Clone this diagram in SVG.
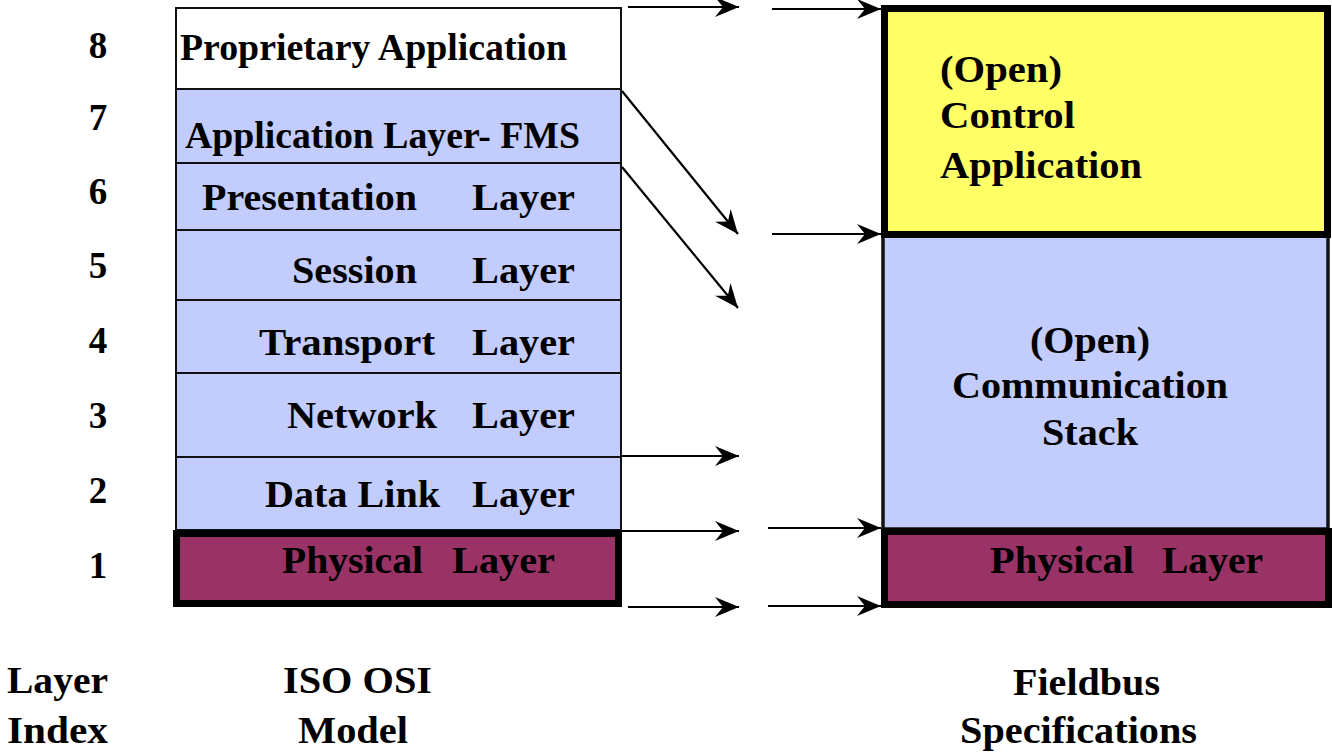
<svg xmlns="http://www.w3.org/2000/svg" width="1332" height="753" viewBox="0 0 1332 753">
<defs>
<marker id="ah" markerUnits="userSpaceOnUse" viewBox="0 0 24 20" refX="24" refY="10" markerWidth="24" markerHeight="20" orient="auto">
<path d="M0,0 L24,10 L0,20 L8,10 Z" fill="#000"/>
</marker>
</defs>
<style>
text{font-family:"Times New Roman","Liberation Serif",Tinos,Times,serif;font-weight:700;fill:#000;}
.lbl{font-size:37px;}
.num{font-size:37px;text-anchor:middle;}
.cap{font-size:37px;}
.mid{text-anchor:middle;}
.blue{fill:#C2CCFD;}
.thin{stroke:#111;stroke-width:2;}
.thick{stroke:#000;stroke-width:7;}
.conn line{stroke:#000;stroke-width:2.2;marker-end:url(#ah);}
</style>
<rect width="1332" height="753" fill="#fff"/>
<g font-family="Times New Roman, Liberation Serif, serif" font-weight="bold">
<g id="layer-index">
<text class="num" x="98" y="58">8</text>
<text class="num" x="98" y="130">7</text>
<text class="num" x="98" y="204">6</text>
<text class="num" x="98" y="278">5</text>
<text class="num" x="98" y="353">4</text>
<text class="num" x="98" y="428">3</text>
<text class="num" x="98" y="503">2</text>
<text class="num" x="98" y="578">1</text>
</g>

<g id="osi-proprietary">
<rect x="176" y="8" width="445" height="81" fill="#fff" class="thin"/>
<text class="lbl" x="180" y="60" textLength="387" lengthAdjust="spacingAndGlyphs">Proprietary Application</text>
</g>
<g id="osi-application">
<rect x="176" y="89" width="445" height="74" class="blue thin"/>
<text class="lbl" x="185" y="148" textLength="395" lengthAdjust="spacingAndGlyphs">Application Layer- FMS</text>
</g>
<g id="osi-presentation">
<rect x="176" y="163" width="445" height="67" class="blue thin"/>
<text class="lbl" x="202" y="210" textLength="215" lengthAdjust="spacingAndGlyphs">Presentation</text>
<text class="lbl" x="472" y="210" textLength="103" lengthAdjust="spacingAndGlyphs">Layer</text>
</g>
<g id="osi-session">
<rect x="176" y="230" width="445" height="70" class="blue thin"/>
<text class="lbl" x="292" y="283" textLength="125" lengthAdjust="spacingAndGlyphs">Session</text>
<text class="lbl" x="472" y="283" textLength="103" lengthAdjust="spacingAndGlyphs">Layer</text>
</g>
<g id="osi-transport">
<rect x="176" y="300" width="445" height="73" class="blue thin"/>
<text class="lbl" x="259" y="355" textLength="176" lengthAdjust="spacingAndGlyphs">Transport</text>
<text class="lbl" x="472" y="355" textLength="103" lengthAdjust="spacingAndGlyphs">Layer</text>
</g>
<g id="osi-network">
<rect x="176" y="373" width="445" height="84" class="blue thin"/>
<text class="lbl" x="287" y="428" textLength="150" lengthAdjust="spacingAndGlyphs">Network</text>
<text class="lbl" x="472" y="428" textLength="103" lengthAdjust="spacingAndGlyphs">Layer</text>
</g>
<g id="osi-datalink">
<rect x="176" y="457" width="445" height="73" class="blue thin"/>
<text class="lbl" x="265" y="507" textLength="175" lengthAdjust="spacingAndGlyphs">Data Link</text>
<text class="lbl" x="472" y="507" textLength="103" lengthAdjust="spacingAndGlyphs">Layer</text>
</g>
<g id="osi-physical">
<rect x="176.5" y="533.5" width="442" height="70" fill="#993366" class="thick"/>
<text class="lbl" x="282" y="573" textLength="141" lengthAdjust="spacingAndGlyphs">Physical</text>
<text class="lbl" x="452" y="573" textLength="103" lengthAdjust="spacingAndGlyphs">Layer</text>
</g>

<g id="fb-communication">
<rect x="883" y="236" width="445" height="293" class="blue" stroke="#111" stroke-width="3.5"/>
<text class="lbl mid" x="1090" y="353" textLength="120" lengthAdjust="spacingAndGlyphs">(Open)</text>
<text class="lbl mid" x="1090" y="398" textLength="276" lengthAdjust="spacingAndGlyphs">Communication</text>
<text class="lbl mid" x="1090" y="445" textLength="96" lengthAdjust="spacingAndGlyphs">Stack</text>
</g>
<g id="fb-control">
<rect x="884.5" y="8.5" width="443" height="226" fill="#FFFF66" class="thick"/>
<text class="lbl" x="940" y="82" textLength="122" lengthAdjust="spacingAndGlyphs">(Open)</text>
<text class="lbl" x="940" y="128" textLength="135" lengthAdjust="spacingAndGlyphs">Control</text>
<text class="lbl" x="940" y="178" textLength="202" lengthAdjust="spacingAndGlyphs">Application</text>
</g>
<g id="fb-physical">
<rect x="884.5" y="531.5" width="444" height="73" fill="#993366" class="thick"/>
<text class="lbl" x="990" y="573" textLength="144" lengthAdjust="spacingAndGlyphs">Physical</text>
<text class="lbl" x="1162" y="573" textLength="101" lengthAdjust="spacingAndGlyphs">Layer</text>
</g>

<g id="captions">
<text class="cap" x="7" y="693" textLength="101" lengthAdjust="spacingAndGlyphs">Layer</text>
<text class="cap" x="7" y="743" textLength="101" lengthAdjust="spacingAndGlyphs">Index</text>
<text class="cap" x="283" y="693" textLength="149" lengthAdjust="spacingAndGlyphs">ISO OSI</text>
<text class="cap" x="298" y="743" textLength="110" lengthAdjust="spacingAndGlyphs">Model</text>
<text class="cap" x="1013" y="695" textLength="147" lengthAdjust="spacingAndGlyphs">Fieldbus</text>
<text class="cap" x="960" y="743" textLength="237" lengthAdjust="spacingAndGlyphs">Specifications</text>
</g>
</g>
<g id="connectors" class="conn">
<line x1="628" y1="7" x2="739" y2="7"/>
<line x1="772" y1="9" x2="881" y2="9"/>
<line x1="622" y1="91" x2="738" y2="234"/>
<line x1="622" y1="167" x2="738" y2="308"/>
<line x1="772" y1="234" x2="881" y2="234"/>
<line x1="621" y1="456" x2="739" y2="456"/>
<line x1="621" y1="531" x2="739" y2="531"/>
<line x1="768" y1="528" x2="881" y2="528"/>
<line x1="628" y1="607" x2="739" y2="607"/>
<line x1="768" y1="606" x2="881" y2="606"/>
</g>
</svg>
